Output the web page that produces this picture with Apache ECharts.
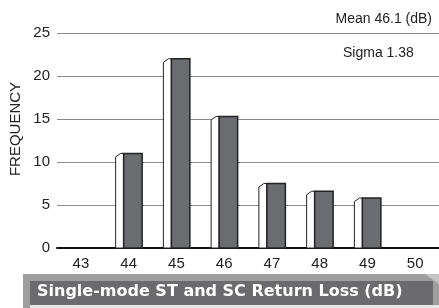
<!DOCTYPE html>
<html>
<head>
<meta charset="utf-8">
<script src="https://cdn.jsdelivr.net/npm/echarts@6/dist/echarts.min.js"></script>
<style>
  html, body { margin: 0; padding: 0; background: #fff; }
  #chart { width: 439px; height: 308px; }
</style>
</head>
<body>
<div id="chart"></div>
<script>
// return loss bins (dB) and how many connectors fell in each
const bins = ["43", "44", "45", "46", "47", "48", "49", "50"];
const frequency = [0, 11, 22, 15.3, 7.5, 6.6, 5.8, 0];
const yTicks = [0, 5, 10, 15, 20, 25];

const myChart = echarts.init(document.getElementById("chart"));

// white side face + dark front face, like the old 3d bar look
function renderBar(params, api) {
  const val = api.value(1);
  if (!val) return;
  const top = api.coord([api.value(0), val]);
  const base = api.coord([api.value(0), 0]);
  const c = top[0];
  const y0 = base[1];
  const y1 = top[1];
  return {
    type: "group",
    children: [
      {
        type: "polygon",
        shape: {
          points: [
            [c - 13, y0],
            [c - 13, y1 + 3.5],
            [c - 8, y1],
            [c - 5, y1],
            [c - 5, y0],
          ],
        },
        style: { fill: "#ffffff", stroke: "#222", lineWidth: 1 },
      },
      {
        type: "rect",
        shape: { x: c - 5, y: y1, width: 18.5, height: y0 - y1 },
        style: { fill: "#6b6c70", stroke: "#222", lineWidth: 1.5 },
      },
    ],
  };
}

const option = {
  animation: false,
  grid: { left: 57, right: 0, top: 33, bottom: 60 },
  title: [
    {
      text: "Mean 46.1 (dB)",
      right: 2,
      top: 7,
      textStyle: { fontSize: 14, fontWeight: "normal", color: "#222", fontFamily: "Liberation Sans" },
    },
    {
      text: "Sigma 1.38",
      left: 338,
      top: 41,
      textStyle: { fontSize: 14, fontWeight: "normal", color: "#222", fontFamily: "Liberation Sans" },
    },
  ],
  xAxis: {
    type: "category",
    data: bins,
    axisLine: { lineStyle: { color: "#111", width: 2 } },
    axisTick: { show: false },
    axisLabel: { color: "#222", fontSize: 15, margin: 8, fontFamily: "Liberation Sans" },
  },
  yAxis: {
    type: "value",
    min: yTicks[0],
    max: yTicks[yTicks.length - 1],
    interval: 5,
    axisLine: { show: false },
    axisTick: { show: false },
    axisLabel: { color: "#222", fontSize: 15, margin: 7, fontFamily: "Liberation Sans" },
    splitLine: { lineStyle: { color: "#8a8a8a", width: 1.2 } },
  },
  series: [
    {
      type: "custom",
      renderItem: renderBar,
      data: bins.map((b, i) => [i, frequency[i]]),
      z: 3,
    },
  ],
  graphic: [
    {
      type: "text",
      x: 16,
      y: 129,
      rotation: Math.PI / 2,
      style: {
        text: "FREQUENCY",
        fill: "#222",
        fontSize: 15,
        fontFamily: "Liberation Sans",
        align: "center",
        verticalAlign: "middle",
      },
    },
    {
      type: "rect",
      shape: { x: 23, y: 274, width: 416, height: 34 },
      style: { fill: "#9e9e9e" },
    },
    {
      type: "polygon",
      shape: { points: [[425, 274], [439, 274], [439, 284]] },
      style: { fill: "#c4c4c4" },
    },
    {
      type: "rect",
      shape: { x: 30, y: 305, width: 409, height: 3 },
      style: { fill: "#e6e6e6" },
    },
    {
      type: "rect",
      shape: { x: 30, y: 281, width: 403, height: 24 },
      style: { fill: "#6b6b6f" },
    },
    {
      type: "text",
      left: 37,
      top: 284,
      style: {
        text: "Single-mode ST and SC Return Loss (dB)",
        fill: "#fff",
        fontSize: 16,
        fontWeight: "bold",
        fontFamily: "DejaVu Sans",
      },
    },
  ],
};
myChart.setOption(option);
</script>
</body>
</html>
